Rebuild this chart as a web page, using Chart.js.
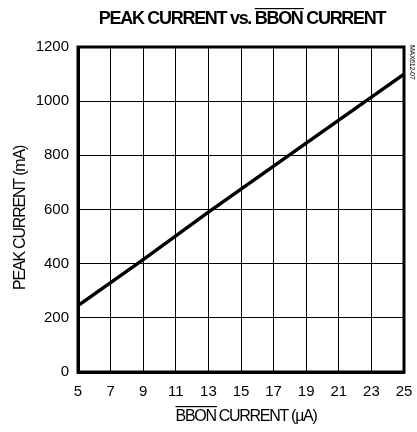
<!DOCTYPE html>
<html><head><meta charset="utf-8">
<script src="https://cdn.jsdelivr.net/npm/chart.js@4"></script>
<style>html,body{margin:0;padding:0;background:#fff}#wrap{width:417px;height:432px}</style>
</head><body><div id="wrap"><canvas id="c" width="417" height="432"></canvas></div>
<script>
const xValues = [5, 9, 13, 17, 21, 25];
const peakCurrent = [245, 415, 590, 760, 930, 1100];
const xTickLabels = [5, 7, 9, 11, 13, 15, 17, 19, 21, 23, 25];
const yTickLabels = [0, 200, 400, 600, 800, 1000, 1200];
const titleParts = ["PEAK CURRENT vs. ", "BBON", " CURRENT"];
const xTitleParts = ["", "BBON", " CURRENT (\u00B5A)"];
const yTitle = "PEAK CURRENT (mA)";
const sideLabel = "MAX612-07";

function drawParts(ctx, parts, cx, y, font, spacing) {
  ctx.font = font;
  ctx.letterSpacing = spacing + "px";
  const widths = parts.map(p => ctx.measureText(p).width);
  const total = widths.reduce((a, b) => a + b, 0);
  let x = cx - total / 2;
  ctx.textAlign = "left";
  ctx.textBaseline = "alphabetic";
  parts.forEach((p, i) => {
    ctx.fillText(p, x, y);
    if (i === 1) {
      const m = ctx.measureText(p);
      const top = y - m.actualBoundingBoxAscent - 3;
      ctx.fillRect(x, top, widths[i] - spacing, 1.2);
    }
    x += widths[i];
  });
  ctx.letterSpacing = "0px";
}

const decor = {
  id: "decor",
  afterDraw(chart) {
    const ctx = chart.ctx;
    const a = chart.chartArea;
    ctx.save();
    ctx.strokeStyle = "#000";
    ctx.lineWidth = 3;
    ctx.strokeRect(a.left, a.top, a.right - a.left, a.bottom - a.top);
    ctx.fillStyle = "#000";
    drawParts(ctx, titleParts, 242, 24, "bold 18px 'Liberation Sans', Arial, sans-serif", -1.3);
    drawParts(ctx, xTitleParts, 246, 421, "16px 'Liberation Sans', Arial, sans-serif", -1.3);
    ctx.save();
    ctx.translate(25, 218);
    ctx.rotate(-Math.PI / 2);
    ctx.font = "16px 'Liberation Sans', Arial, sans-serif";
    ctx.letterSpacing = "-1.2px";
    ctx.textAlign = "center";
    ctx.fillText(yTitle, 0, 0);
    ctx.restore();
    ctx.save();
    ctx.translate(410, 45);
    ctx.rotate(Math.PI / 2);
    ctx.font = "7px 'Liberation Sans', Arial, sans-serif";
    ctx.letterSpacing = "-0.3px";
    ctx.textAlign = "left";
    ctx.fillText(sideLabel, 0, 0);
    ctx.restore();
    ctx.restore();
  }
};

new Chart(document.getElementById("c"), {
  type: "line",
  data: {
    datasets: [{
      data: xValues.map((x, i) => ({ x: x, y: peakCurrent[i] })),
      borderColor: "#000",
      borderWidth: 3.5,
      pointRadius: 0,
      tension: 0,
      fill: false
    }]
  },
  options: {
    responsive: false,
    animation: false,
    devicePixelRatio: 1,
    layout: { padding: { top: 47, right: 13, left: 0, bottom: 0 } },
    plugins: { legend: { display: false }, tooltip: { enabled: false } },
    scales: {
      x: {
        type: "linear",
        min: 5, max: 25,
        afterBuildTicks: s => { s.ticks = xTickLabels.map(v => ({ value: v })); },
        afterFit: s => { s.height = 60; s.paddingRight = 0; s.paddingLeft = 0; },
        grid: { color: "#000", lineWidth: 1, drawTicks: false },
        border: { color: "#000", width: 3 },
        ticks: { color: "#000", padding: 11, maxRotation: 0, callback: v => String(v), font: { size: 15, family: "'Liberation Sans', Arial, sans-serif" } }
      },
      y: {
        type: "linear",
        min: 0, max: 1200,
        afterBuildTicks: s => { s.ticks = yTickLabels.map(v => ({ value: v })); },
        afterFit: s => { s.width = 78; s.paddingTop = 0; s.paddingBottom = 0; },
        grid: { color: "#000", lineWidth: 1, drawTicks: false },
        border: { color: "#000", width: 3 },
        ticks: { color: "#000", padding: 9, callback: v => String(v), font: { size: 15, family: "'Liberation Sans', Arial, sans-serif" } }
      }
    }
  },
  plugins: [decor]
});
</script>
</body></html>
